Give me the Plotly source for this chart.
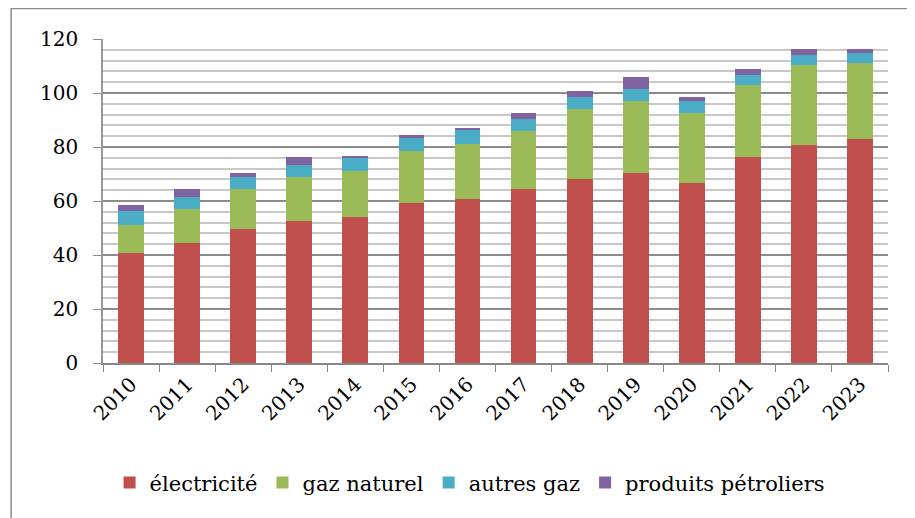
import plotly.graph_objects as go

years = ["2010", "2011", "2012", "2013", "2014", "2015", "2016",
         "2017", "2018", "2019", "2020", "2021", "2022", "2023"]
electricite = [40.6, 44.3, 49.6, 52.6, 54.1, 59.4, 60.7, 64.4, 68.1, 70.4, 66.5, 76.4, 80.7, 83.1]
gaz_naturel = [10.5, 12.6, 14.8, 16.3, 17.0, 19.1, 20.4, 21.5, 26.0, 26.6, 26.1, 26.5, 29.7, 28.0]
autres_gaz = [5.2, 4.7, 4.5, 4.4, 4.9, 5.1, 5.2, 4.5, 4.4, 4.5, 4.4, 3.8, 3.7, 3.7]
produits_petroliers = [2.2, 2.7, 1.3, 2.9, 0.8, 0.7, 0.4, 2.1, 2.2, 4.4, 1.5, 2.2, 2.2, 1.5]

series = [
    ("électricité", electricite, "#C0504D"),
    ("gaz naturel", gaz_naturel, "#9BBB59"),
    ("autres gaz", autres_gaz, "#4BACC6"),
    ("produits pétroliers", produits_petroliers, "#8064A2"),
]

fig = go.Figure()
for name, vals, col in series:
    fig.add_trace(go.Bar(
        x=years, y=vals, name=name,
        marker=dict(color=col, line=dict(width=0)),
        width=0.46,
    ))

font_family = "DejaVu Serif"

fig.update_layout(
    barmode="stack",
    width=915, height=518,
    margin=dict(l=95, r=35, t=31, b=163),
    paper_bgcolor="white",
    plot_bgcolor="white",
    font=dict(family=font_family, size=20, color="black"),
    showlegend=True,
    legend=dict(
        orientation="h",
        x=0.467, xanchor="center",
        y=-0.37, yanchor="middle",
        font=dict(family=font_family, size=21, color="black"),
        itemwidth=30,
        traceorder="normal",
    ),
    xaxis=dict(
        type="category",
        showline=True, linecolor="#888888", linewidth=1.5,
        ticks="outside", tickson="boundaries", ticklen=7, tickcolor="#888888",
        tickangle=-45,
        showgrid=False,
        tickfont=dict(family=font_family, size=20),
    ),
    yaxis=dict(
        range=[0, 120],
        dtick=20,
        showline=True, linecolor="#999999", linewidth=1.5,
        ticks="outside", ticklen=8, tickcolor="#888888",
        ticklabelstandoff=11,
        showgrid=True, gridcolor="#8c8c8c", gridwidth=2,
        minor=dict(dtick=4, showgrid=True, gridcolor="#c8c8c8", gridwidth=1.5),
        tickfont=dict(family=font_family, size=20),
        zeroline=False,
    ),
    shapes=[
        dict(type="rect", xref="paper", yref="paper",
             x0=-0.117, x1=1.2, y0=-0.7, y1=1.094,
             line=dict(color="#8c8c8c", width=1.5), fillcolor="rgba(0,0,0,0)",
             layer="below"),
    ],
)

fig.write_html("out.html")
